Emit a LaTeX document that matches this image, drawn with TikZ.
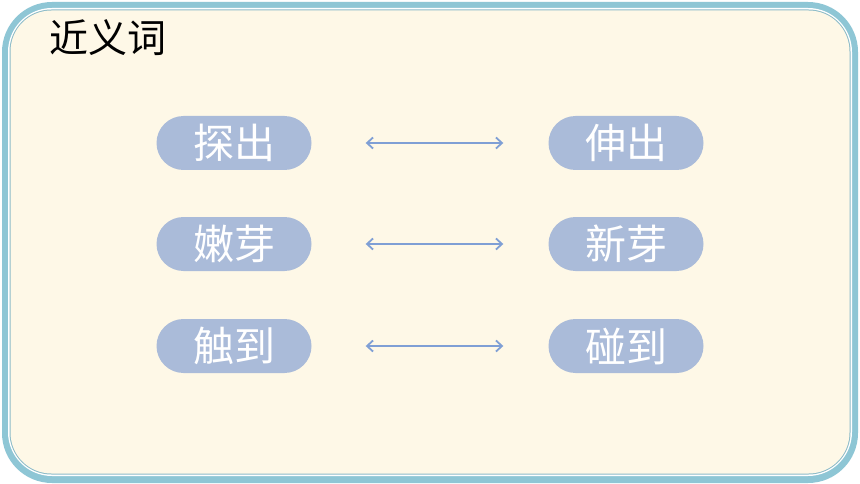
\documentclass[tikz,border=0pt]{standalone}
\usepackage{fontspec}
\newfontfamily\cjk{Noto Sans CJK SC}
\definecolor{frameblue}{HTML}{8EC6D5}
\definecolor{cream}{HTML}{FEF8E7}
\definecolor{pill}{HTML}{AABBD9}
\definecolor{arrowc}{HTML}{7F9FD5}
\usetikzlibrary{arrows.meta}
\begin{document}
\begin{tikzpicture}[x=1pt,y=-1pt,
  pillbox/.style={fill=pill, rounded corners=27pt, minimum width=155pt, minimum height=54pt, text=white, font=\cjk\fontsize{41}{41}\selectfont, inner sep=0pt},
  biarrow/.style={draw=arrowc, line width=1.8pt, {Straight Barb[length=6pt,width=11pt]}-{Straight Barb[length=6pt,width=11pt]}}]
\useasboundingbox (0,0) rectangle (860,484);
\fill[white] (0,0) rectangle (860,484);
\fill[frameblue, rounded corners=50pt] (2,2) rectangle (858,483);
\fill[white, rounded corners=44pt] (8,8) rectangle (852,476);
\fill[frameblue!85!gray, rounded corners=42pt] (9.5,9.5) rectangle (850.5,474.5);
\fill[cream, rounded corners=41pt] (10.5,10.5) rectangle (849.5,473.5);
\node[font=\cjk\fontsize{39}{39}\selectfont, anchor=west, inner sep=0pt] (title) at (49,38) {近义词};
\node[pillbox] (a1) at (234,143) {探出};
\node[pillbox] (b1) at (626,143) {伸出};
\node[pillbox] (a2) at (234,244) {嫩芽};
\node[pillbox] (b2) at (626,244) {新芽};
\node[pillbox] (a3) at (234,346) {触到};
\node[pillbox] (b3) at (626,346) {碰到};
\foreach \i in {1,2,3}{
  \coordinate (l\i) at ([xshift=54pt]a\i.east);
  \coordinate (r\i) at ([xshift=-45pt]b\i.west);
  \draw[biarrow] (l\i) -- (r\i);
}
\end{tikzpicture}
\end{document}
